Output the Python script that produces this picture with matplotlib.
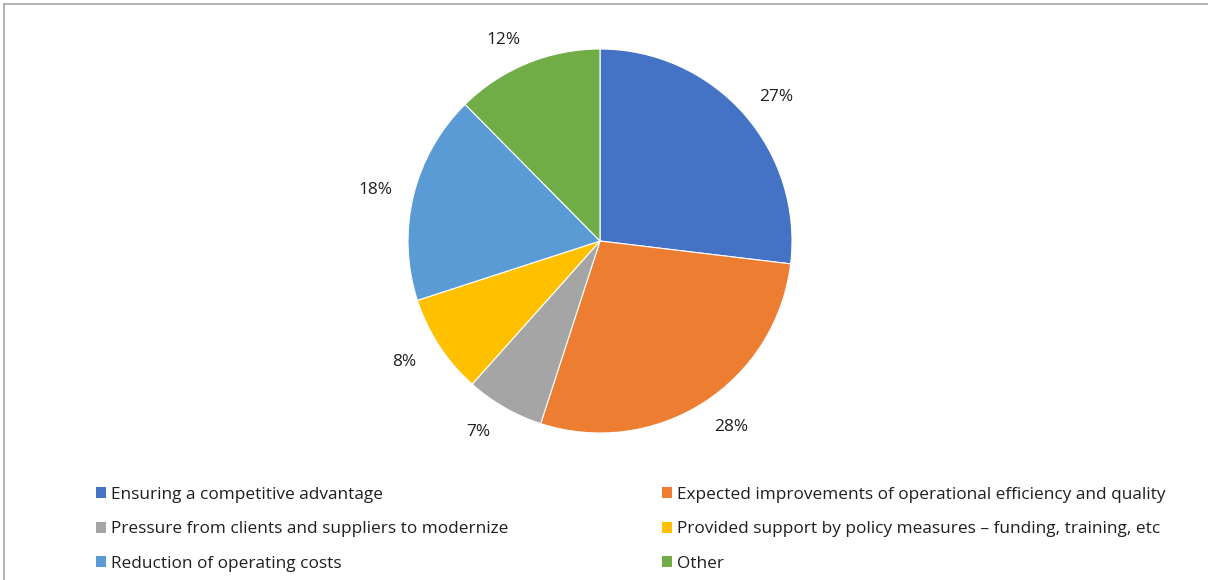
import numpy as np
import matplotlib.pyplot as plt
from matplotlib.lines import Line2D
from matplotlib.patches import Patch

plt.rcParams['font.family'] = ['Open Sans', 'DejaVu Sans']

categories = [
    'Ensuring a competitive advantage',
    'Expected improvements of operational efficiency and quality',
    'Pressure from clients and suppliers to modernize',
    'Provided support by policy measures \u2013 funding, training, etc',
    'Reduction of operating costs',
    'Other',
]
shares = [26.9, 28.1, 6.6, 8.4, 17.6, 12.4]
colors = ['#4472C4', '#ED7D31', '#A5A5A5', '#FFC000', '#5B9BD5', '#70AD47']

W, H = 1208, 580
fig = plt.figure(figsize=(W / 100, H / 100), dpi=100)

# pie axes: centre (600, 241) px, radius 192 px
cx, cy, r = 600, 241, 192
ax = fig.add_axes([(cx - r) / W, (H - cy - r) / H, 2 * r / W, 2 * r / H])
wedges, autotexts = ax.pie(
    shares, colors=colors, startangle=90, counterclock=False,
    autopct='%.0f%%', pctdistance=1.13,
    wedgeprops=dict(edgecolor='white', linewidth=0.8),
    textprops=dict(fontsize=12.4, color='#1f1f1f'))[::2]
ax.set_xlim(-1, 1)
ax.set_ylim(-1, 1)
ax.set_aspect('equal')
ax.axis('off')

# outside-end labels, nudged sideways like Excel does
for w, t in zip(wedges, autotexts):
    mid = np.deg2rad((w.theta1 + w.theta2) / 2)
    x, y = 1.13 * np.cos(mid), 1.13 * np.sin(mid)
    x += 0.073 * np.sign(np.cos(mid))
    if y < 0:
        y -= 0.015
    t.set_position((x, y))
    t.set_ha('center')
    t.set_va('center')
    t.set_clip_on(False)

# legend as two columns, row-major order
handles = [Patch(facecolor=c, edgecolor='none') for c in colors]
legend_kw = dict(loc='upper left', frameon=False, fontsize=12.4, borderpad=0,
                 borderaxespad=0, handlelength=0.6, handleheight=0.6,
                 handletextpad=0.28, labelspacing=1.06, labelcolor='#1f1f1f')
leg1 = fig.legend(handles[0::2], categories[0::2],
                  bbox_to_anchor=(96 / W, 1 - 487 / H), **legend_kw)
leg2 = fig.legend(handles[1::2], categories[1::2],
                  bbox_to_anchor=(662 / W, 1 - 487 / H), **legend_kw)

# chart border (top and left visible)
fig.add_artist(Line2D([4 / W, 1], [1 - 4 / H, 1 - 4 / H], color='#A6A6A6',
                      linewidth=1.2, transform=fig.transFigure))
fig.add_artist(Line2D([4 / W, 4 / W], [0, 1 - 4 / H], color='#A6A6A6',
                      linewidth=1.2, transform=fig.transFigure))

plt.savefig('out.png', dpi=100)
